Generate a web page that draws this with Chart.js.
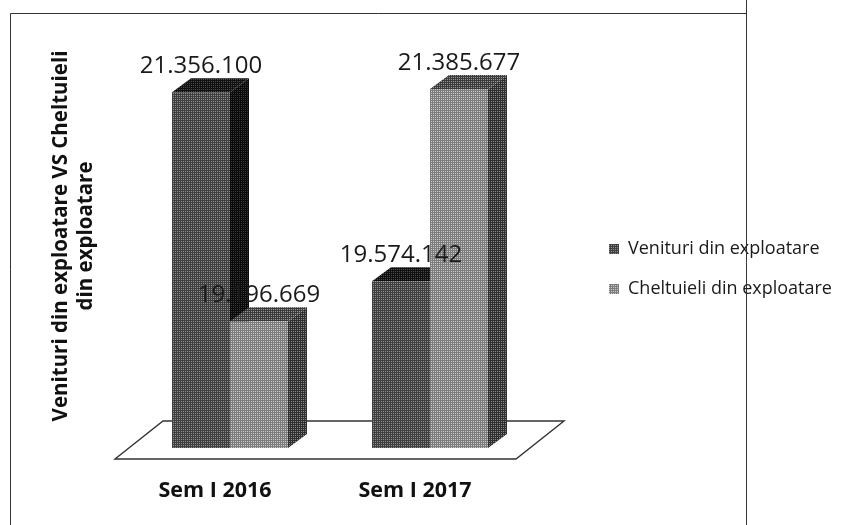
<!DOCTYPE html>
<html>
<head>
<meta charset="utf-8">
<style>html,body{margin:0;padding:0;background:#fff}canvas{display:block}</style>
<script src="https://cdn.jsdelivr.net/npm/chart.js@4"></script>
</head>
<body>
<canvas id="c" width="850" height="525"></canvas>
<script>
const categories = ['Sem I 2016', 'Sem I 2017'];
const venituri = [21356100, 19574142];
const cheltuieli = [19196669, 21385677];
const seriesNames = ['Venituri din exploatare', 'Cheltuieli din exploatare'];
const axisTitle = ['Venituri din exploatare VS Cheltuieli', 'din exploatare'];
const axisMin = 18000000;
const axisMax = 22000000;

function fmt(v){ return String(v).replace(/\B(?=(\d{3})+$)/g, '.'); }
function tile(a, b){
  const t = document.createElement('canvas'); t.width = 4; t.height = 4;
  const g = t.getContext('2d');
  g.fillStyle = b; g.fillRect(0,0,4,4);
  g.fillStyle = a; g.fillRect(0,0,4,1); g.fillRect(0,2,4,1); g.fillRect(0,0,1,4); g.fillRect(2,0,1,4);
  return g.createPattern(t, 'repeat');
}
const darkFront = tile('#3f3f3f', '#8f8f8f');
const lightFront = tile('#7c7c7c', '#cccccc');
const faces = [
  {side: tile('#0a0a0a', '#3a3a3a'), top: tile('#111111', '#4a4a4a')},
  {side: tile('#2f2f2f', '#8a8a8a'), top: tile('#3a3a3a', '#999999')}
];
const DX = 19, DY = -14;

const scene = {
  id: 'scene',
  afterLayout(chart){
    chart.legend.left = 587; chart.legend.right = 850;
    chart.legend.top = 218;
  },
  beforeDatasetsDraw(chart){
    const c = chart.ctx, a = chart.chartArea;
    c.save();
    c.beginPath();
    c.moveTo(a.left - 15, a.bottom + 11);
    c.lineTo(a.right - 14, a.bottom + 11);
    c.lineTo(a.right + 34, a.bottom - 27);
    c.lineTo(a.left + 33, a.bottom - 27);
    c.closePath();
    c.fillStyle = '#fff'; c.fill();
    c.strokeStyle = '#333'; c.lineWidth = 1.4; c.stroke();
    chart.data.datasets.forEach((ds, i) => {
      const meta = chart.getDatasetMeta(i);
      meta.data.forEach(el => {
        const p = el.getProps(['x','y','base','width'], true);
        const l = p.x - p.width/2, r = p.x + p.width/2;
        c.fillStyle = faces[i].side;
        c.beginPath();
        c.moveTo(r, p.y); c.lineTo(r+DX, p.y+DY); c.lineTo(r+DX, p.base+DY); c.lineTo(r, p.base);
        c.closePath(); c.fill();
        c.fillStyle = faces[i].top;
        c.beginPath();
        c.moveTo(l, p.y); c.lineTo(l+DX, p.y+DY); c.lineTo(r+DX, p.y+DY); c.lineTo(r, p.y);
        c.closePath(); c.fill();
        el.draw(c);
      });
    });
    c.restore();
    return false;
  },
  afterDraw(chart){
    const c = chart.ctx;
    c.save();
    c.fillStyle = '#1a1a1a';
    c.font = '24px "Open Sans"';
    c.textAlign = 'center';
    c.textBaseline = 'alphabetic';
    chart.data.datasets.forEach((ds, i) => {
      chart.getDatasetMeta(i).data.forEach((el, j) => {
        c.fillText(fmt(ds.data[j]), el.x, el.y - 19);
      });
    });
    c.strokeStyle = '#333'; c.lineWidth = 1;
    c.beginPath();
    c.moveTo(10.5, 525); c.lineTo(10.5, 13.5); c.lineTo(746.5, 13.5);
    c.moveTo(746.5, 0); c.lineTo(746.5, 525);
    c.stroke();
    c.restore();
  }
};

new Chart(document.getElementById('c'), {
  type: 'bar',
  data: {
    labels: categories,
    datasets: [
      {label: seriesNames[0], data: venituri, base: axisMin, backgroundColor: darkFront, borderWidth: 0},
      {label: seriesNames[1], data: cheltuieli, base: axisMin, backgroundColor: lightFront, borderWidth: 0}
    ]
  },
  plugins: [scene],
  options: {
    responsive: false,
    animation: false,
    layout: {padding: {top: 24, right: 220, bottom: 0, left: 0}},
    datasets: {bar: {categoryPercentage: 0.58, barPercentage: 1}},
    plugins: {
      tooltip: {enabled: false},
      legend: {
        position: 'right', align: 'start', maxWidth: 100,
        labels: {boxWidth: 10, boxHeight: 10, padding: 22, color: '#1a1a1a', font: {family: '"Open Sans"', size: 18}}
      }
    },
    scales: {
      x: {
        grid: {display: false, drawTicks: false},
        border: {display: false},
        ticks: {padding: 30, labelOffset: -15, maxRotation: 0, color: '#111', font: {family: '"Open Sans"', size: 21.5, weight: 'bold'}},
        afterFit(s){ s.height = 77; }
      },
      y: {
        min: axisMin, max: axisMax,
        grid: {display: false, drawTicks: false},
        border: {display: false},
        ticks: {display: false},
        title: {display: true, text: axisTitle, color: '#111', padding: {top: 49, bottom: 0}, font: {family: '"Open Sans"', size: 20.5, weight: 'bold'}},
        afterFit(s){ s.width = 130; }
      }
    }
  }
});
</script>
</body>
</html>
